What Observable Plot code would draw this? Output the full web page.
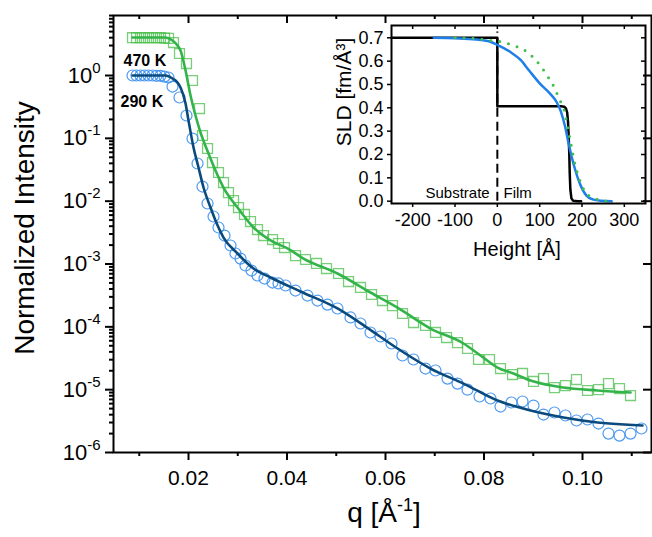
<!DOCTYPE html>
<html><head><meta charset="utf-8">
<script src="https://cdn.jsdelivr.net/npm/d3@7"></script>
<script src="https://cdn.jsdelivr.net/npm/@observablehq/plot@0.6"></script>
<style>
body{margin:0;background:#fff;}
#wrap{position:relative;width:652px;height:537px;}
#wrap svg{display:block;}
#inset{position:absolute;left:330px;top:23px;}
</style></head><body><div id="wrap"><div id="main"></div><div id="inset"></div></div>
<script>
// ---- main chart data: reflectivity at 290 K (circles) and 470 K (squares)
const q290 = [0.00863,0.00944,0.01025,0.01107,0.01188,0.01269,0.0135,0.01431,0.01513,0.01594,0.01675,0.01817,0.01959,0.02081,0.02183,0.02284,0.02386,0.02508,0.02609,0.02731,0.02853,0.02954,0.03056,0.03157,0.03279,0.03401,0.03543,0.03706,0.03827,0.0397,0.04173,0.04416,0.04619,0.04822,0.05025,0.05289,0.05492,0.05695,0.05898,0.06122,0.06345,0.06569,0.06812,0.07015,0.07259,0.07462,0.07665,0.07909,0.08132,0.08335,0.08558,0.08782,0.09005,0.09208,0.09431,0.09655,0.09878,0.10101,0.10325,0.10528,0.10751,0.10975,0.11198];
const I290 = [1.0,1.0,1.0,1.0,1.0,1.0,0.99,0.99,0.96,0.93,0.668,0.447,0.231,0.0993,0.0398,0.0171,0.00918,0.0057,0.00381,0.00284,0.00197,0.00147,0.00122,0.000946,0.000787,0.000656,0.000587,0.000507,0.00049,0.000455,0.000378,0.000315,0.000262,0.000226,0.000196,0.000141,0.000113,8.13e-5,7.02e-5,5.43e-5,3.5e-5,3.02e-5,2.17e-5,2.02e-5,1.5e-5,1.25e-5,1.0e-5,7.78e-6,7.23e-6,5.39e-6,6.25e-6,6.48e-6,5.59e-6,4.02e-6,4.33e-6,3.88e-6,3.23e-6,3.35e-6,2.89e-6,2.0e-6,1.86e-6,2.0e-6,2.41e-6];
const q470 = [0.00863,0.00944,0.01025,0.01107,0.01188,0.01269,0.0135,0.01431,0.01513,0.01594,0.01695,0.01817,0.01959,0.02081,0.02223,0.02284,0.02386,0.02487,0.02609,0.02711,0.02812,0.02914,0.03015,0.03137,0.03259,0.03401,0.03523,0.03706,0.03827,0.03949,0.04173,0.04376,0.04599,0.04802,0.05046,0.05249,0.05492,0.05716,0.05939,0.06142,0.06345,0.06569,0.06812,0.07015,0.07239,0.07462,0.07665,0.07888,0.08112,0.08335,0.08579,0.08782,0.09005,0.09208,0.09431,0.09655,0.09878,0.10101,0.10325,0.10528,0.10751,0.10975];
const I470 = [4.0,4.0,4.0,4.0,4.0,4.0,4.0,4.0,3.95,3.9,3.35,2.24,1.55,0.833,0.298,0.111,0.0689,0.0412,0.0286,0.0198,0.0137,0.0102,0.00792,0.00614,0.00474,0.00354,0.00284,0.00245,0.00212,0.00183,0.00136,0.00118,0.00102,0.000847,0.000706,0.000526,0.000423,0.000327,0.000262,0.000218,0.000163,0.000117,0.000105,8.13e-5,6.76e-5,5.62e-5,4.52e-5,3.02e-5,3.02e-5,2.17e-5,1.74e-5,1.81e-5,1.35e-5,1.5e-5,1.08e-5,1.16e-5,1.45e-5,9.7e-6,1.0e-5,1.25e-5,1.04e-5,8.07e-6];
// fitted curves
const qFit290 = [0.00863,0.01533,0.01675,0.01777,0.01838,0.0194,0.02,0.02102,0.02203,0.02305,0.02447,0.02548,0.02711,0.02995,0.0332,0.03665,0.04274,0.05025,0.05594,0.06244,0.06914,0.07584,0.08274,0.08944,0.09614,0.10305,0.11218];
const IFit290 = [1.0,1.0,0.896,0.774,0.644,0.358,0.192,0.0715,0.0344,0.0165,0.00792,0.00492,0.00264,0.00147,0.000847,0.00061,0.000365,0.000196,0.000101,4.52e-5,2.17e-5,1.25e-5,6.71e-6,4.66e-6,3.6e-6,3.0e-6,2.69e-6];
const qFit470 = [0.00863,0.01533,0.01675,0.01777,0.01838,0.0194,0.02041,0.02142,0.02244,0.02406,0.02548,0.02711,0.02995,0.0332,0.03665,0.0401,0.04335,0.05025,0.05695,0.06244,0.06914,0.07584,0.07929,0.08274,0.08599,0.08944,0.09614,0.10305,0.10975];
const IFit470 = [4.03,4.03,3.61,3.0,2.5,1.2,0.481,0.231,0.124,0.0574,0.0308,0.0165,0.00792,0.00381,0.00237,0.00177,0.00122,0.000706,0.000352,0.000202,9.4e-5,5.43e-5,3.5e-5,2.25e-5,1.81e-5,1.4e-5,1.08e-5,9.7e-6,9.0e-6];
const seriesLabels = ["470 K","290 K"];
const seriesLabelQ = [0.0068,0.0062];
const seriesLabelI = [1.68,0.387];
const xTicks = [0.02,0.04,0.06,0.08,0.10];
const xMinor = [0.01,0.03,0.05,0.07,0.09,0.11];
const yTicks = [1e-6,1e-5,1e-4,1e-3,1e-2,1e-1,1];

// ---- inset data: SLD profiles
const hBlue = [-150,-100,-50,-20,0,30,55,75,100,125,140,150,160,168,175,183,195,210,225,245,270];
const sldBlue = [0.700,0.698,0.693,0.685,0.670,0.640,0.605,0.560,0.505,0.460,0.425,0.385,0.320,0.250,0.195,0.140,0.075,0.025,0.008,0.002,0.0];
const hGreen = [-100,-50,-10,12,37,64,87,104,120,134,147,158,167,175,182,191,206,229,262];
const sldGreen = [0.700,0.697,0.687,0.682,0.668,0.647,0.612,0.575,0.532,0.489,0.435,0.389,0.310,0.235,0.170,0.110,0.045,0.012,0.0];
const hStep = [-250,0,0,150,158,162,165,167,168.5,170,171,172.5,175,179,190,198];
const sldStep = [0.700,0.700,0.407,0.407,0.405,0.398,0.38,0.34,0.28,0.2,0.12,0.05,0.012,0.002,0,0];
const ifaceH = [0], ifaceLo = [0], ifaceHi = [0.725];
const regionNames = ["Substrate","Film"];
const regionH = [-169.7,14.6];
const regionSLD = [0.036,0.036];
const hTicks = [-200,-100,0,100,200,300];
const sldTicks = [0,0.1,0.2,0.3,0.4,0.5,0.6,0.7];

const FONT = '"Liberation Sans", Arial, Helvetica, sans-serif';
const zip = (xs, ys, kx, ky) => xs.map((v,i)=>({[kx]:v,[ky]:ys[i]}));
const d290 = zip(q290,I290,"q","I"), d470 = zip(q470,I470,"q","I");
const f290 = zip(qFit290,IFit290,"q","I"), f470 = zip(qFit470,IFit470,"q","I");
const labs = seriesLabels.map((t,i)=>({t,q:seriesLabelQ[i],I:seriesLabelI[i]}));
const yMinor = [];
for (let e=-6;e<=0;e++) for (let m=2;m<=9;m++){const v=m*Math.pow(10,e); if (v<9.02) yMinor.push(v);}

const W=652,H=537,mL=113,mR=1,mT=15,mB=85, FW=W-mL-mR, FH=H-mT-mB;
const main = Plot.plot({
  width:W,height:H,marginLeft:mL,marginRight:mR,marginTop:mT,marginBottom:mB,
  style:{fontFamily:FONT,fontSize:"21px",color:"#000",background:"transparent",overflow:"visible"},
  x:{domain:[0.00477,0.11401],label:null},
  y:{type:"log",domain:[1e-6,9.02],label:null},
  marks:[
    Plot.dot(d470,{x:"q",y:"I",symbol:"square",r:5.6,stroke:"#4cbf4c",strokeOpacity:0.75,strokeWidth:1.3,fill:"none"}),
    Plot.dot(d290,{x:"q",y:"I",symbol:"circle",r:5.5,stroke:"#3b8ff0",strokeOpacity:0.9,strokeWidth:1.2,fill:"none"}),
    Plot.line(f470,{x:"q",y:"I",stroke:"#33b44a",strokeWidth:2.6,curve:"monotone-x"}),
    Plot.line(f290,{x:"q",y:"I",stroke:"#0a4a7c",strokeWidth:2.6,curve:"monotone-x"}),
    Plot.axisX(xTicks,{tickSize:8,tickPadding:10,tickFormat:d3.format(".2f"),fontSize:21,strokeWidth:2,label:null}),
    Plot.axisX(xMinor,{tickSize:4,tickFormat:()=>"",strokeWidth:2,label:null}),
    Plot.axisY(yTicks,{tickSize:8,tickPadding:5,tickFormat:d=>"10^"+Math.round(Math.log10(d)),fontSize:22,strokeWidth:2,label:null}),
    Plot.axisY(yMinor,{tickSize:4,tickFormat:()=>"",strokeWidth:2,label:null}),
    Plot.tickX(xTicks,{x:d=>d,insetBottom:FH-8,strokeWidth:2}),
    Plot.tickX(xMinor,{x:d=>d,insetBottom:FH-4,strokeWidth:2}),
    Plot.tickY(yTicks,{y:d=>d,insetLeft:FW-8,strokeWidth:2}),
    Plot.frame({strokeWidth:2}),
    Plot.text(labs,{x:"q",y:"I",text:"t",textAnchor:"start",fontSize:16,fontWeight:"bold"})
  ]
});
document.getElementById("main").appendChild(main);
const ms = d3.select(main);
ms.selectAll('g[aria-label="y-axis tick label"] text').each(function(){
  const t=d3.select(this), s=t.text();
  if (!s.includes("^")) return;
  const [b,e]=s.split("^");
  t.text(null);
  t.append("tspan").text(b);
  t.append("tspan").attr("dy","-10").attr("font-size","15px").text(e);
});
ms.append("text").attr("transform","translate(34,228) rotate(-90)").attr("text-anchor","middle")
  .attr("font-family",FONT).attr("font-size",28).attr("fill","#000").text("Normalized Intensity");
const ql = ms.append("text").attr("x",384).attr("y",522).attr("text-anchor","middle")
  .attr("font-family",FONT).attr("font-size",28).attr("fill","#000");
ql.append("tspan").text("q [Å");
ql.append("tspan").attr("dy","-11").attr("font-size","18px").text("-1");
ql.append("tspan").attr("dy","11").text("]");

// ---- inset
const iW=316,iH=240,imL=61,imR=1,imT=2,imB=60, IFW=iW-imL-imR, IFH=iH-imT-imB;
const blueP = zip(hBlue,sldBlue,"h","s"), greenP = zip(hGreen,sldGreen,"h","s"), stepP = zip(hStep,sldStep,"h","s");
const iface = ifaceH.map((h,i)=>({h,lo:ifaceLo[i],hi:ifaceHi[i]}));
const regions = regionNames.map((t,i)=>({t,h:regionH[i],s:regionSLD[i]}));
const inset = Plot.plot({
  width:iW,height:iH,marginLeft:imL,marginRight:imR,marginTop:imT,marginBottom:imB,
  style:{fontFamily:FONT,fontSize:"18px",color:"#000",background:"transparent",overflow:"visible"},
  x:{domain:[-250,350],label:null},
  y:{domain:[-0.0099,0.7527],label:null},
  marks:[
    Plot.ruleX(iface,{x:"h",y1:"lo",y2:"hi",stroke:"#000",strokeWidth:2,strokeDasharray:"9,5"}),
    Plot.line(stepP,{x:"h",y:"s",stroke:"#000",strokeWidth:2.5}),
    Plot.line(blueP,{x:"h",y:"s",stroke:"#1f7fe8",strokeWidth:2.5,curve:"monotone-x"}),
    Plot.line(greenP,{x:"h",y:"s",stroke:"#3cc04a",strokeWidth:3,strokeDasharray:"0,9",strokeLinecap:"round",curve:"monotone-x"}),
    Plot.axisX(hTicks,{tickSize:4,tickPadding:6,tickFormat:d=>String(d),fontSize:18,strokeWidth:1.5,label:null}),
    Plot.axisY(sldTicks,{tickSize:4,tickPadding:4,tickFormat:d3.format(".1f"),fontSize:18,strokeWidth:1.5,label:null}),
    Plot.tickX(hTicks,{x:d=>d,insetBottom:IFH-4,strokeWidth:1.5}),
    Plot.tickY(sldTicks,{y:d=>d,insetLeft:IFW-4,strokeWidth:1.5}),
    Plot.frame({strokeWidth:2}),
    Plot.text(regions,{x:"h",y:"s",text:"t",textAnchor:"start",fontSize:15})
  ]
});
document.getElementById("inset").appendChild(inset);
const is = d3.select(inset);
is.append("text").attr("transform","translate(21,69) rotate(-90)").attr("text-anchor","middle")
  .attr("font-family",FONT).attr("font-size",21).attr("fill","#000").text("SLD [fm/Å³]");
is.append("text").attr("x",517-330).attr("y",256-23).attr("text-anchor","middle")
  .attr("font-family",FONT).attr("font-size",20).attr("fill","#000").text("Height [Å]");
</script></body></html>
